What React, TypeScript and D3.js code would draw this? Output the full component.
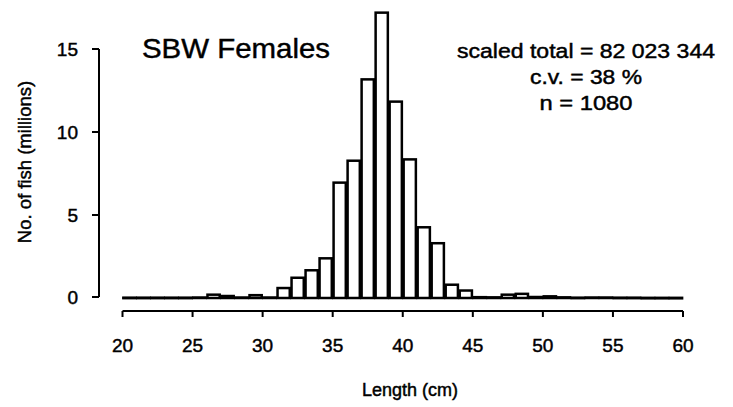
import React from "react";
import * as d3 from "d3";

const binStarts = [20,21,22,23,24,25,26,27,28,29,30,31,32,33,34,35,36,37,38,39,40,41,42,43,44,45,46,47,48,49,50,51,52,53,54,55,56,57,58,59];
const millions = [0.02,0.02,0.02,0.02,0.02,0.03,0.2,0.12,0.03,0.17,0.03,0.6,1.22,1.67,2.39,6.95,8.27,13.17,17.19,11.83,8.35,4.26,3.3,0.8,0.45,0.05,0.04,0.2,0.25,0.06,0.1,0.04,0.02,0.03,0.03,0.02,0.02,0.01,0.01,0.01];
const xTicks = [20,25,30,35,40,45,50,55,60];
const yTicks = [0,5,10,15];
const title = "SBW Females";
const statLines = ["scaled total = 82 023 344", "c.v. = 38 %", "n = 1080"];
const statWidths = [258, 112, 93];
const xLabel = "Length (cm)";
const yLabel = "No. of fish (millions)";

const W = 733, H = 407;
const font = "'Liberation Sans', Arial, Helvetica, sans-serif";

export default function App() {
  const x = d3.scaleLinear().domain([20, 60]).range([122.5, 683]);
  const y = d3.scaleLinear().domain([0, 15]).range([298, 49]);
  const yAxisX = 99;
  const xAxisY = 311;
  const ink = { stroke: "#000", strokeWidth: 0.45 };
  return (
    <svg width={W} height={H} style={{ position: "absolute", left: 0, top: 0, background: "#fff" }} fontFamily={font}>
      <rect width={W} height={H} fill="#fff" />
      {/* baseline */}
      <line x1={x(20)} x2={x(60)} y1={y(0)} y2={y(0)} stroke="#000" strokeWidth={2.2} />
      {/* bars */}
      {binStarts.map((b, i) => {
        const v = millions[i];
        const x0 = x(b) + 0.9, x1 = x(b + 1) - 0.9;
        return (
          <rect key={b} x={x0} y={y(v)} width={x1 - x0} height={Math.max(y(0) - y(v), 0.5)}
            fill="#fff" stroke="#000" strokeWidth={2.5} />
        );
      })}
      {/* y axis */}
      <line x1={yAxisX} x2={yAxisX} y1={y(0) - 1} y2={y(15)} stroke="#000" strokeWidth={2} />
      {yTicks.map(t => {
        const yy = t === 0 ? y(t) - 1 : y(t);
        return (
          <g key={t}>
            <line x1={yAxisX - 7} x2={yAxisX} y1={yy} y2={yy} stroke="#000" strokeWidth={2} />
            <text x={78} y={yy} dy="0.36em" textAnchor="end" fontSize={19} {...ink}>{t}</text>
          </g>
        );
      })}
      {/* x axis */}
      <line x1={x(20)} x2={x(60)} y1={xAxisY} y2={xAxisY} stroke="#000" strokeWidth={2} />
      {xTicks.map(t => (
        <g key={t}>
          <line x1={x(t)} x2={x(t)} y1={xAxisY} y2={xAxisY + 6} stroke="#000" strokeWidth={2} />
          <text x={x(t)} y={352} textAnchor="middle" fontSize={19} {...ink}>{t}</text>
        </g>
      ))}
      <text x={410} y={396} textAnchor="middle" fontSize={18} {...ink}>{xLabel}</text>
      <text transform={`translate(31,162) rotate(-90)`} textAnchor="middle" fontSize={18.5} {...ink}>{yLabel}</text>
      <text x={142} y={58} fontSize={28} textLength={188} lengthAdjust="spacingAndGlyphs" {...ink}>{title}</text>
      {statLines.map((s, i) => (
        <text key={i} x={586} y={58 + i * 26} textAnchor="middle" fontSize={20}
          textLength={statWidths[i]} lengthAdjust="spacingAndGlyphs" {...ink}>{s}</text>
      ))}
    </svg>
  );
}
